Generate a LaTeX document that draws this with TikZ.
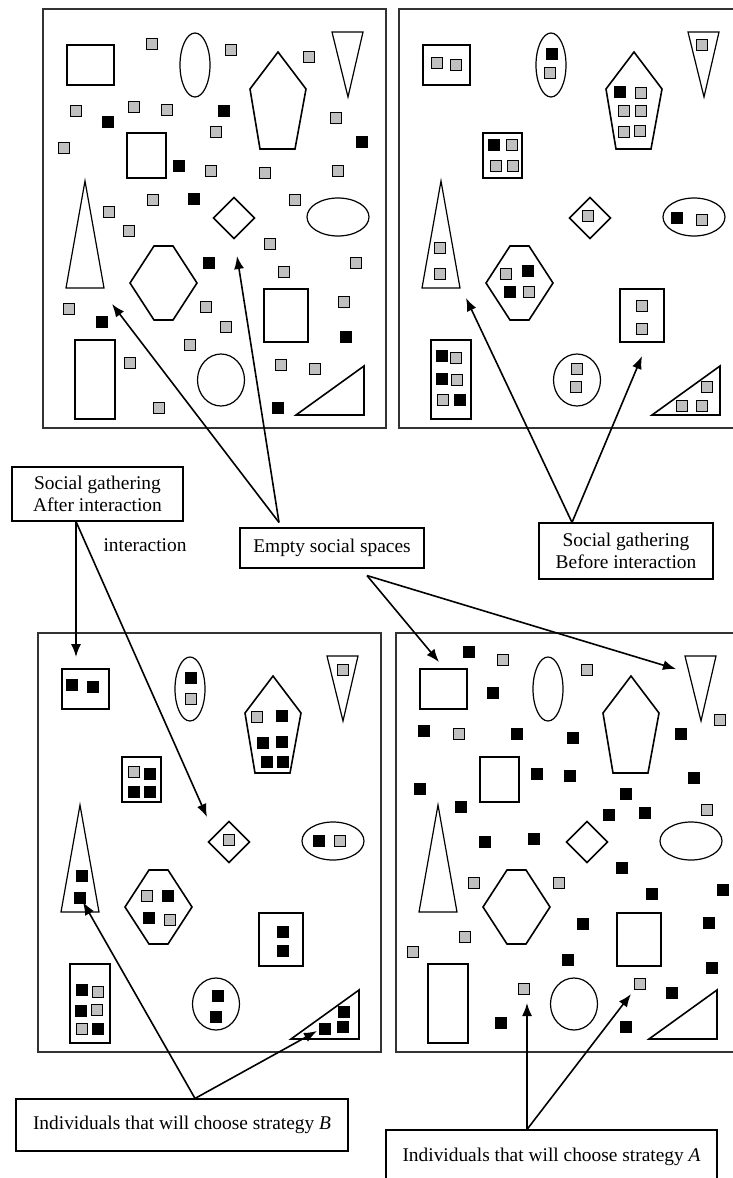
\documentclass[tikz,border=0pt]{standalone}
\usepackage{fontspec}
\setmainfont{Liberation Serif}
\usetikzlibrary{arrows.meta}
\definecolor{sqgray}{RGB}{192,192,192}

\newcommand{\socialshapes}{%
	\draw[frame] (0,0) rectangle (343,419);
	\draw[shp] (24,36) rectangle (71,76);
	\draw[shp] (152,56) ellipse [x radius=15, y radius=32];
	\draw[shpb] (235,43) -- (263,80) -- (252,140) -- (217,140) -- (207,80) -- cycle;
	\draw[shp] (289,23) -- (320,23) -- (305,88) -- cycle;
	\draw[shp] (84,124) rectangle (123,169);
	\draw[shp] (42,172) -- (61,279) -- (23,279) -- cycle;
	\draw[shpb] (191,188.5) -- (211.5,209) -- (191,229.5) -- (170.5,209) -- cycle;
	\draw[shp] (295,208) ellipse [x radius=31, y radius=19];
	\draw[shpb] (111,237) -- (130,237) -- (154,274) -- (130,311) -- (111,311) -- (87,274) -- cycle;
	\draw[shp] (221,280) rectangle (265,333);
	\draw[shp] (32,331) rectangle (72,410);
	\draw[shp] (178,371) ellipse [x radius=23.5, y radius=26];
	\draw[shpb] (253,406) -- (321,406) -- (321,357) -- cycle;
}

\begin{document}
\begin{tikzpicture}[x=1pt,y=-1pt,
	frame/.style={line width=1.3pt,color=black!80},
	shp/.style={line width=1.2pt},
	shpb/.style={line width=1.6pt},
	gsq/.style={draw,line width=1.1pt,fill=sqgray},
	bsq/.style={fill=black},
	lbl/.style={draw,line width=1.1pt,inner sep=0pt,align=center,font=\fontsize{19.4}{22}\selectfont},
	>={Latex[length=13pt,width=10pt]},
	con/.style={->,line width=1.6pt}]
	\useasboundingbox (0,0) rectangle (733,1178);
	\clip (0,0) rectangle (733,1178);
	% the four social gatherings
	\begin{scope}[shift={(43,9)}] \socialshapes \end{scope}
	\begin{scope}[shift={(399,9)}] \socialshapes \end{scope}
	\begin{scope}[shift={(38,633)}] \socialshapes \end{scope}
	\begin{scope}[shift={(396,633)}] \socialshapes \end{scope}
	% after interaction (top left)
	\foreach \x/\y in {152/44,231/50,309/57,76/111,134/107,167/110,216/132,336/118,64/148,211/171,265/173,338/171,153/200,295/200,109/212,129/231,270/244,284/272,356/263,69/309,206/307,226/327,344/302,190/345,130/363,281/365,315/369,159/408}
		\draw[gsq] (\x-5.5,\y-5.5) rectangle ++(11,11);
	\foreach \x/\y in {108/122,224/111,362/142,179/166,194/199,209/263,102/322,346/337,278/408}
		\fill[bsq] (\x-6.25,\y-6.25) rectangle ++(12.5,12.5);
	% before interaction (top right)
	\foreach \x/\y in {437/63,456/65,550/73,702/45,641/93,624/111,641/111,624/132,640/131,512/145,496/166,513/166,440/248,440/274,588/216,702/220,506/274,529/292,642/306,642/329,456/358,457/380,443/400,577/369,576/387,707/387,682/406,702/406}
		\draw[gsq] (\x-5.5,\y-5.5) rectangle ++(11,11);
	\foreach \x/\y in {552/54,620/92,494/145,677/218,528/271,510/292,442/356,442/379,460/400}
		\fill[bsq] (\x-6.25,\y-6.25) rectangle ++(12.5,12.5);
	% bottom left
	\foreach \x/\y in {191/699,343/670,257/717,134/772,229/840,340/841,147/896,170/920,98/992,97/1010,82/1029}
		\draw[gsq] (\x-5.5,\y-5.5) rectangle ++(11,11);
	\foreach \x/\y in {72/685,93/687,191/678,282/716,263/743,282/742,267/762,283/762,150/774,134/792,150/792,82/876,80/898,319/841,168/896,149/918,283/932,283/951,82/990,81/1011,98/1029,218/996,216/1017,344/1012,325/1029,343/1027}
		\fill[bsq] (\x-6.25,\y-6.25) rectangle ++(12.5,12.5);
	% bottom right
	\foreach \x/\y in {503/660,587/670,720/720,459/734,707/810,474/883,559/883,465/937,413/952,524/989,640/984}
		\draw[gsq] (\x-5.5,\y-5.5) rectangle ++(11,11);
	\foreach \x/\y in {469/652,493/693,424/731,517/734,573/738,681/734,537/774,570/776,694/778,420/789,626/794,461/807,609/815,645/813,485/842,534/839,622/868,652/894,723/890,583/924,709/923,568/960,712/968,672/993,501/1023,626/1027}
		\fill[bsq] (\x-6.25,\y-6.25) rectangle ++(12.5,12.5);
	% labels
	\node[lbl,minimum width=171pt,minimum height=54pt] (after) at (97.5,494) {Social gathering\\After interaction};
	\node[font=\fontsize{19.4}{22}\selectfont] (inter) at (145,545) {interaction};
	\node[lbl,minimum width=184pt,minimum height=40pt] (empty) at (332,548) {Empty social spaces};
	\node[lbl,minimum width=174pt,minimum height=56pt] (before) at (626,551) {Social gathering\\Before interaction};
	\node[lbl,minimum width=332pt,minimum height=52pt] (stratB) at (182,1125) {Individuals that will choose strategy \textit{B}};
	\node[lbl,minimum width=331pt,minimum height=54pt] (stratA) at (551.5,1157) {Individuals that will choose strategy \textit{A}};
	% arrow ends
	\coordinate (tl1) at (112,304);
	\coordinate (tl2) at (237,256);
	\coordinate (tr1) at (466,298);
	\coordinate (tr2) at (642,356);
	\coordinate (br1) at (439,662);
	\coordinate (br2) at (676,669);
	\coordinate (bl1) at (76,657);
	\coordinate (bl2) at (207,817);
	\coordinate (bl3) at (83,902);
	\coordinate (bl4) at (317,1031);
	\coordinate (br3) at (527,1003);
	\coordinate (br4) at (631,994);
	\draw[con] ([xshift=-53pt,yshift=5pt]empty.north) -- (tl1);
	\draw[con] ([xshift=-53pt,yshift=5pt]empty.north) -- (tl2);
	\draw[con] ([xshift=35pt,yshift=-7pt]empty.south) -- (br1);
	\draw[con] ([xshift=35pt,yshift=-7pt]empty.south) -- (br2);
	\draw[con] ([xshift=-54pt]before.north) -- (tr1);
	\draw[con] ([xshift=-54pt]before.north) -- (tr2);
	\draw[con] ([xshift=-21.5pt]after.south) -- (bl1);
	\draw[con] ([xshift=-21.5pt]after.south) -- (bl2);
	\draw[con] ([xshift=13pt]stratB.north) -- (bl3);
	\draw[con] ([xshift=13pt]stratB.north) -- (bl4);
	\draw[con] ([xshift=-24.5pt]stratA.north) -- (br3);
	\draw[con] ([xshift=-24.5pt]stratA.north) -- (br4);
\end{tikzpicture}
\end{document}
